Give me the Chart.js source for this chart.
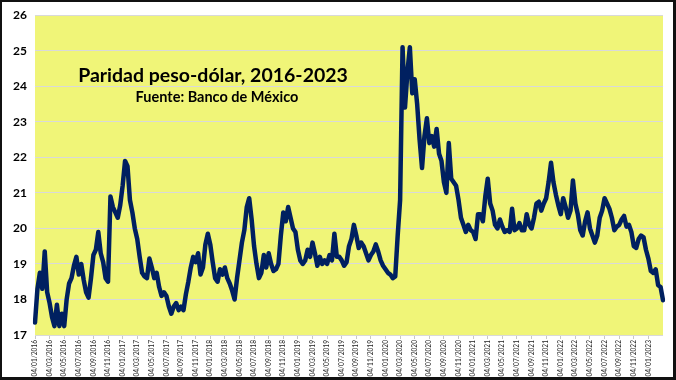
<!DOCTYPE html>
<html><head><meta charset="utf-8">
<script src="https://cdn.jsdelivr.net/npm/chart.js@4.4.1/dist/chart.umd.min.js"></script>
<style>
html,body{margin:0;padding:0;background:#fff;}
#wrap{position:relative;width:676px;height:380px;overflow:hidden;background:#fff;}
#c{position:absolute;left:0;top:0;}
#frame{position:absolute;left:0;top:0;width:676px;height:380px;box-sizing:border-box;border:2px solid #111;border-right-width:3px;border-bottom-width:3px;pointer-events:none;}
</style></head><body>
<div id="wrap"><canvas id="c" width="676" height="380"></canvas><div id="frame"></div></div>
<script>
// Values: three readings per month (days 04, 14, 24)
const v2016 = [17.35,18.3,18.75, 18.3,19.35,18.2, 17.9,17.5,17.25, 17.85,17.25,17.6, 17.25,18.0,18.45, 18.6,18.95,19.2,
               18.7,19.0,18.55, 18.2,18.05,18.6, 19.25,19.4,19.9, 19.3,19.05,18.6, 18.5,20.9,20.6, 20.45,20.3,20.65];
const v2017 = [21.2,21.9,21.75, 20.8,20.45,20.0, 19.7,19.2,18.75, 18.65,18.6,19.15, 18.9,18.6,18.75, 18.35,18.1,18.2,
               18.1,17.8,17.6, 17.8,17.9,17.7, 17.8,17.7,18.15, 18.5,18.9,19.2, 19.05,19.3,18.7, 18.9,19.55,19.85];
const v2018 = [19.55,19.05,18.6, 18.5,18.85,18.7, 18.9,18.6,18.45, 18.25,18.0,18.6, 19.1,19.6,19.95, 20.6,20.85,20.25,
               19.5,19.0,18.6, 18.75,19.25,18.9, 19.3,19.0,18.8, 18.85,19.0,19.8, 20.45,20.2,20.6, 20.3,20.0,19.9];
const v2019 = [19.4,19.1,19.0, 19.1,19.4,19.2, 19.6,19.3,18.95, 19.2,19.0,19.1, 19.0,19.25,19.1, 19.85,19.2,19.2,
               19.1,18.95,19.05, 19.5,19.7,20.1, 19.8,19.45,19.6, 19.5,19.3,19.1, 19.25,19.35,19.55, 19.35,19.1,18.95];
const v2020 = [18.85,18.75,18.7, 18.6,18.65,19.8, 20.8,25.1,23.4, 24.4,25.1,23.8, 24.2,23.5,22.5, 21.7,22.6,23.1,
               22.4,22.6,22.3, 22.8,22.1,21.9, 21.3,21.0,22.4, 21.4,21.3,21.2, 20.8,20.3,20.1, 19.9,20.1,19.95];
const v2021 = [19.9,19.7,20.4, 20.4,20.2,20.9, 21.4,20.7,20.5, 20.1,20.0,20.25, 20.05,19.9,19.95, 19.9,20.55,19.95,
               20.0,20.15,19.95, 19.95,20.4,20.1, 20.0,20.3,20.7, 20.75,20.5,20.7, 20.85,21.3,21.85, 21.3,20.95,20.65];
const v2022 = [20.4,20.85,20.6, 20.3,20.5,21.35, 20.7,20.4,19.95, 19.8,20.2,20.45, 20.0,19.8,19.6, 19.8,20.3,20.5,
               20.85,20.7,20.55, 20.3,19.95,20.05, 20.1,20.25,20.35, 20.05,20.1,19.9, 19.5,19.45,19.7, 19.8,19.75,19.4];
const v2023 = [19.15,18.8,18.75, 18.85,18.4,18.35, 17.98];

const rates = [].concat(v2016, v2017, v2018, v2019, v2020, v2021, v2022, v2023);

// Categories: dd/mm/yyyy
const readingDays = [4, 14, 24];
const dates = [];
for (let y = 2016; y <= 2023 && dates.length < rates.length; y++) {
  for (let m = 1; m <= 12 && dates.length < rates.length; m++) {
    for (const d of readingDays) {
      if (dates.length >= rates.length) break;
      dates.push(String(d).padStart(2,'0') + '/' + String(m).padStart(2,'0') + '/' + y);
    }
  }
}
const titleText = 'Paridad peso-dólar, 2016-2023';
const subtitleText = 'Fuente: Banco de México';

function isLabelTick(i) {
  const l = dates[i];
  if (!l || i >= dates.length - 1) return false;
  return l.startsWith('04/') && (parseInt(l.substr(3, 2), 10) % 2 === 1);
}

const deco = {
  id: 'deco',
  beforeDraw(chart) {
    const { ctx, chartArea: a } = chart;
    ctx.save();
    ctx.fillStyle = '#F0F578';
    ctx.fillRect(a.left, a.top, a.right - a.left, a.bottom - a.top);
    ctx.restore();
  },
  beforeDatasetsDraw(chart) {
    const { ctx, chartArea: a } = chart;
    ctx.save();
    ctx.fillStyle = '#000';
    ctx.textAlign = 'center';
    ctx.textBaseline = 'alphabetic';
    ctx.font = 'bold 19.5px Lato';
    ctx.fillText(titleText, a.left + 178, a.top + 67);
    ctx.font = 'bold 14.5px Lato';
    ctx.fillText(subtitleText, a.left + 182, a.top + 87);
    ctx.restore();
  }
};

new Chart(document.getElementById('c'), {
  type: 'line',
  data: {
    labels: dates,
    datasets: [{
      data: rates,
      borderColor: '#002060',
      borderWidth: 4.5,
      pointRadius: 0,
      tension: 0,
      fill: false,
      borderJoinStyle: 'round',
      borderCapStyle: 'round'
    }]
  },
  options: {
    responsive: false,
    animation: false,
    layout: { padding: { left: 0, top: 15, right: 13, bottom: 0 } },
    plugins: { legend: { display: false }, tooltip: { enabled: false } },
    scales: {
      x: {
        type: 'category',
        offset: false,
        afterFit(s) { s.height = 45; },
        border: { display: false },
        grid: {
          drawOnChartArea: false,
          drawTicks: true,
          tickLength: 4,
          color: (c) => isLabelTick(c.index) ? '#c8c8c8' : 'rgba(0,0,0,0)'
        },
        ticks: {
          autoSkip: false,
          minRotation: 90,
          maxRotation: 90,
          padding: 1,
          color: '#222',
          font: { family: 'Lato', size: 6.6 },
          callback: (v, i) => isLabelTick(i) ? dates[i] : ''
        }
      },
      y: {
        min: 17,
        max: 26,
        afterFit(s) { s.width = 35; },
        border: { display: false },
        grid: { color: '#d9d9d9', lineWidth: 1, drawTicks: false },
        ticks: {
          stepSize: 1,
          padding: 8,
          color: '#000',
          font: { family: 'Lato', size: 12, weight: 'bold' }
        }
      }
    }
  },
  plugins: [deco]
});
</script></body></html>
